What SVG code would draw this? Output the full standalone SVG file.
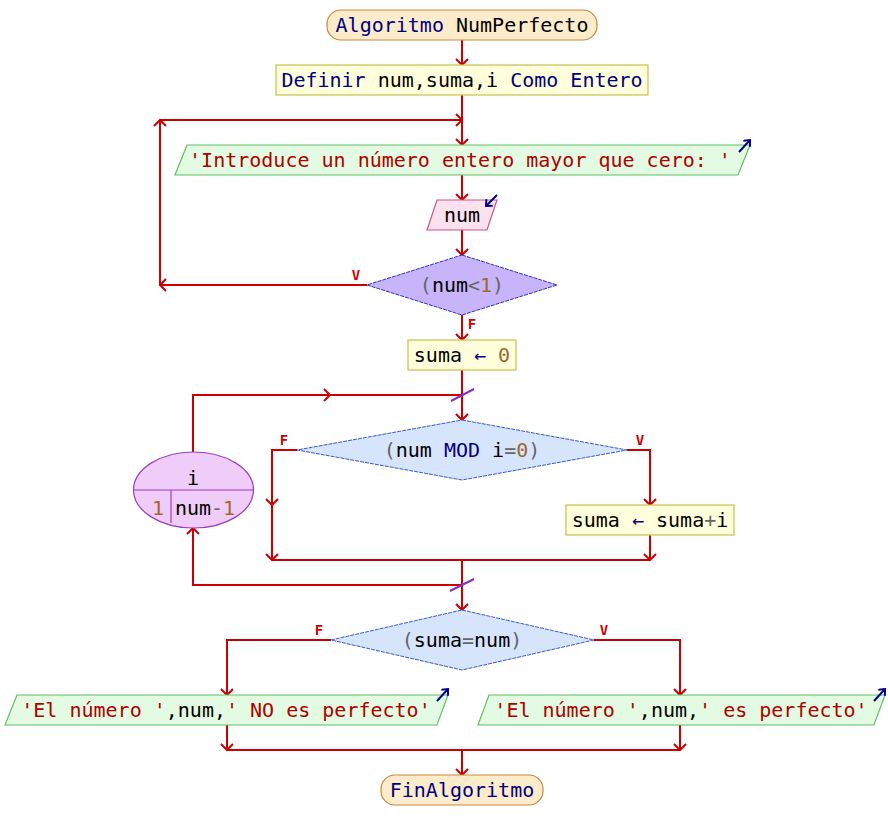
<svg xmlns="http://www.w3.org/2000/svg" width="888" height="840" viewBox="0 0 888 840">
<defs>
<marker id="a" viewBox="0 0 14 14" markerUnits="userSpaceOnUse" markerWidth="14" markerHeight="14" refX="7" refY="7" orient="auto">
<path d="M1,1 L7,7 L1,13" fill="none" stroke="#cc0000" stroke-width="2"/>
</marker>
<marker id="b" viewBox="0 0 10 10" markerUnits="userSpaceOnUse" markerWidth="10" markerHeight="10" refX="6" refY="5" orient="auto">
<path d="M1,0.5 L6,5 L1,9.5" fill="none" stroke="#00008c" stroke-width="2"/>
</marker>
</defs>
<style>
text{font-size:20px;text-anchor:middle;font-family:"DejaVu Sans Mono","Liberation Mono",monospace}
.k{fill:#00007f}
.s{fill:#b00000}
.v{fill:#000}
.n{fill:#a0682c}
.o{fill:#666}
.lbl{font-size:14px;font-weight:bold;fill:#cc0000}
.term{fill:#fdeccb;stroke:#c8883a;stroke-width:1.2}
.proc{fill:#ffffdc;stroke:#c8c050;stroke-width:1.2}
.out{fill:#e2fbe2;stroke:#60c060;stroke-width:1.2}
.inp{fill:#fce2ee;stroke:#c8558a;stroke-width:1.2}
.dia{fill:#d6e4fc;stroke:#3a5cc8;stroke-width:1;stroke-dasharray:4 1}
.dia1{fill:#c8b4fa;stroke:#3030c0;stroke-width:1;stroke-dasharray:4 1}
.c path{fill:none;stroke:#cc0000;stroke-width:2}
.ar{marker-end:url(#a)}
.io{fill:none;stroke:#00008c;stroke-width:2;marker-end:url(#b)}
.sl{stroke:#8a2cc8;stroke-width:2}
</style>

<g class="c" id="connectors">
<path class="ar" d="M462,40 V65"/>
<path class="ar" d="M462,95 V145"/>
<path class="ar" d="M367,285 H160"/>
<path class="ar" d="M160,285 V120"/>
<path class="ar" d="M160,120 H462"/>
<path class="ar" d="M462,175 V200"/>
<path class="ar" d="M462,230 V255"/>
<path class="ar" d="M462,315 V340"/>
<path class="ar" d="M462,370 V420"/>
<path class="ar" d="M193,452 V395 H330"/>
<path d="M330,395 H462"/>
<path class="ar" d="M297,450 H272 V505"/>
<path class="ar" d="M272,505 V560"/>
<path class="ar" d="M627,450 H650 V505"/>
<path class="ar" d="M650,535 V560"/>
<path d="M272,560 H650"/>
<path class="ar" d="M462,560 V610"/>
<path class="ar" d="M462,585 H193 V528"/>
<path class="ar" d="M331,640 H227 V695"/>
<path class="ar" d="M594,640 H680 V695"/>
<path class="ar" d="M227,725 V750"/>
<path class="ar" d="M680,725 V750"/>
<path d="M227,750 H680"/>
<path class="ar" d="M462,750 V775"/>
<line class="sl" x1="451" y1="401" x2="474" y2="389"/>
<line class="sl" x1="450" y1="591" x2="474" y2="579"/>
<text class="lbl" x="356" y="280">V</text>
<text class="lbl" x="472" y="329">F</text>
<text class="lbl" x="284" y="445">F</text>
<text class="lbl" x="640" y="445">V</text>
<text class="lbl" x="319" y="635">F</text>
<text class="lbl" x="604" y="635">V</text>
</g>

<g id="start">
<rect class="term" x="327" y="10" width="270" height="30" rx="14"/>
<text x="462" y="32"><tspan class="k">Algoritmo</tspan><tspan class="v"> NumPerfecto</tspan></text>
</g>

<g id="define">
<rect class="proc" x="276" y="65" width="372" height="30"/>
<text x="462" y="87"><tspan class="k">Definir </tspan><tspan class="v">num,suma,i</tspan><tspan class="k"> Como Entero</tspan></text>
</g>

<g id="prompt">
<polygon class="out" points="187,145 750,145 738,175 175,175"/>
<path class="io" d="M739,152 L750,140"/>
<text x="460" y="167" class="s">'Introduce un número entero mayor que cero: '</text>
</g>

<g id="read">
<polygon class="inp" points="437,200 497,200 487,230 427,230"/>
<path class="io" d="M497,195 L486,206"/>
<text x="462" y="222" class="v">num</text>
</g>

<g id="cond1">
<polygon class="dia1" points="462,255 557,285 462,315 367,285"/>
<text x="462" y="292"><tspan class="o">(</tspan><tspan class="v">num</tspan><tspan class="o">&lt;</tspan><tspan class="n">1</tspan><tspan class="o">)</tspan></text>
</g>

<g id="init">
<rect class="proc" x="408" y="340" width="108" height="30"/>
<text x="462" y="362"><tspan class="v">suma </tspan><tspan class="k">←</tspan><tspan class="n"> 0</tspan></text>
</g>

<g id="loop">
<ellipse cx="193.5" cy="490" rx="60" ry="38" fill="#f0ccf8" stroke="#9a3cc8" stroke-width="1.2"/>
<line x1="134" y1="490" x2="253" y2="490" stroke="#9a3cc8" stroke-width="1.2"/>
<line x1="171" y1="490" x2="171" y2="523" stroke="#9a3cc8" stroke-width="1.2"/>
<text x="193" y="485" class="v">i</text>
<text x="158" y="515" class="n">1</text>
<text x="205" y="515"><tspan class="v">num</tspan><tspan class="o">-</tspan><tspan class="n">1</tspan></text>
</g>

<g id="cond2">
<polygon class="dia" points="462,420 627,450 462,480 297,450"/>
<text x="462" y="457"><tspan class="o">(</tspan><tspan class="v">num </tspan><tspan class="k">MOD</tspan><tspan class="v"> i</tspan><tspan class="o">=</tspan><tspan class="n">0</tspan><tspan class="o">)</tspan></text>
</g>

<g id="accum">
<rect class="proc" x="566" y="505" width="168" height="30"/>
<text x="650" y="527"><tspan class="v">suma </tspan><tspan class="k">←</tspan><tspan class="v"> suma</tspan><tspan class="o">+</tspan><tspan class="v">i</tspan></text>
</g>

<g id="cond3">
<polygon class="dia" points="462,610 594,640 462,670 331,640"/>
<text x="462" y="647"><tspan class="o">(</tspan><tspan class="v">suma</tspan><tspan class="o">=</tspan><tspan class="v">num</tspan><tspan class="o">)</tspan></text>
</g>

<g id="outNo">
<polygon class="out" points="17,695 448,695 437,725 5,725"/>
<path class="io" d="M437,701 L448,689"/>
<text x="226" y="717"><tspan class="s">'El número '</tspan><tspan class="v">,num,</tspan><tspan class="s">' NO es perfecto'</tspan></text>
</g>

<g id="outYes">
<polygon class="out" points="489,695 885,695 874,725 478,725"/>
<path class="io" d="M874,701 L885,689"/>
<text x="681" y="717"><tspan class="s">'El número '</tspan><tspan class="v">,num,</tspan><tspan class="s">' es perfecto'</tspan></text>
</g>

<g id="end">
<rect class="term" x="381" y="775" width="162" height="30" rx="14"/>
<text x="462" y="797" class="k">FinAlgoritmo</text>
</g>
</svg>
